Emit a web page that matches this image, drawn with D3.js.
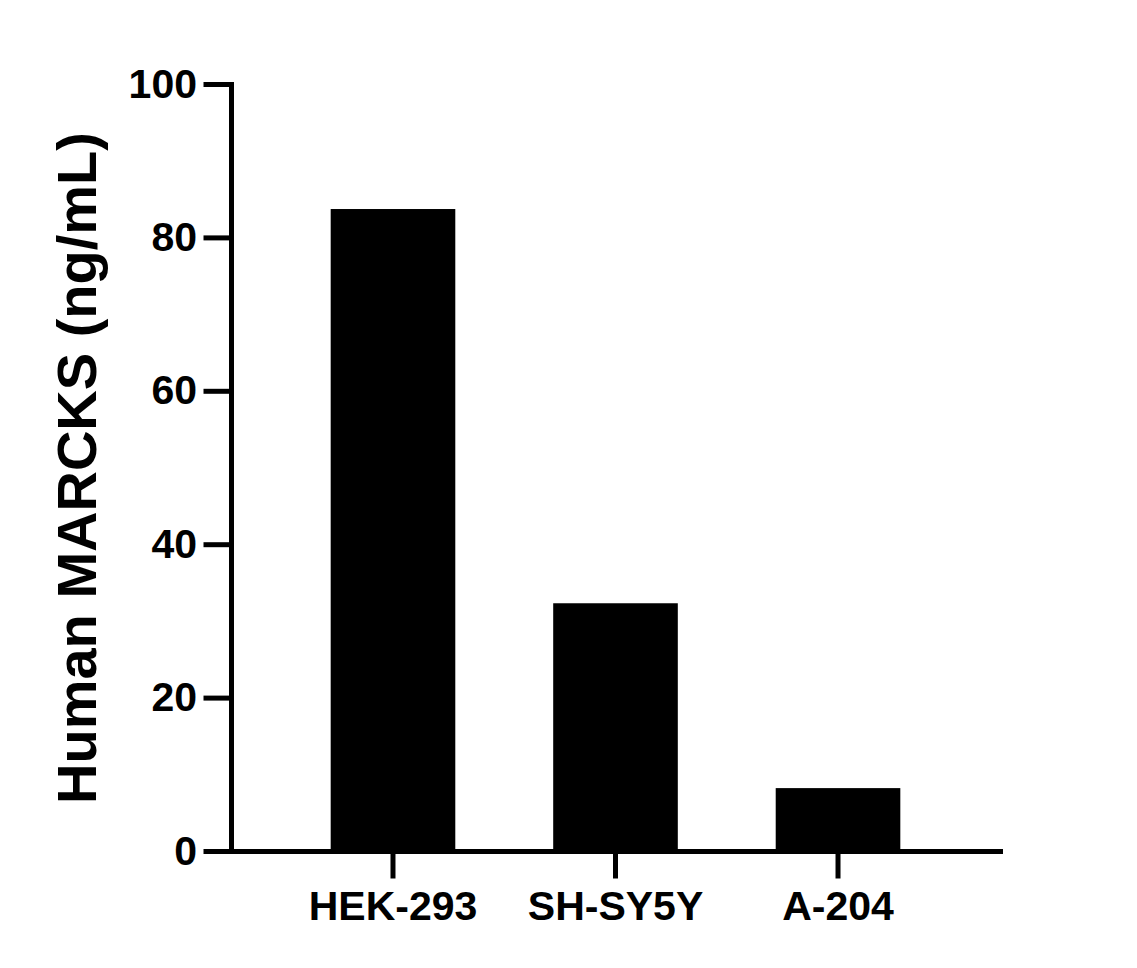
<!DOCTYPE html>
<html lang="en">
<head>
  <meta charset="utf-8">
  <title>Human MARCKS</title>
  <script src="https://d3js.org/d3.v7.min.js"></script>
  <style>
    body { margin: 0; background: #fff; }
    text { font-family: "Liberation Sans", Arial, sans-serif; font-weight: bold; }
  </style>
</head>
<body>
<script>
  // data
  var cellLines = ["HEK-293", "SH-SY5Y", "A-204"];
  var marcksValues = [83.7, 32.3, 8.2];
  var yTicks = [0, 20, 40, 60, 80, 100];

  var svg_width = 1137;
  var svg_height = 968;
  var plotLeft = 231, plotRight = 1000, plotTop = 84, plotBottom = 851;

  var svg = d3.select("body")
              .append("svg")
              .attr("width", svg_width)
              .attr("height", svg_height);

  var x = d3.scaleBand()
            .domain(cellLines)
            .range([plotLeft, plotRight])
            .paddingInner(0.44)
            .paddingOuter(0.448);

  var y = d3.scaleLinear()
            .domain([0, 100])
            .range([plotBottom, plotTop]);

  // bars
  svg.selectAll("rect.bar")
     .data(cellLines)
     .enter()
       .append("rect")
       .attr("class", "bar")
       .attr("x", function(d) { return x(d); })
       .attr("y", function(d, i) { return y(marcksValues[i]); })
       .attr("width", x.bandwidth())
       .attr("height", function(d, i) { return y(0) - y(marcksValues[i]); })
       .attr("fill", "#000");

  // y axis
  svg.append("g")
     .attr("transform", "translate(" + plotLeft + ",0)")
     .call(d3.axisLeft(y).tickValues(yTicks).tickSize(25).tickSizeOuter(0).tickPadding(9));

  // x axis
  svg.append("g")
     .attr("transform", "translate(0," + plotBottom + ")")
     .call(d3.axisBottom(x).tickSize(25).tickSizeOuter(0).tickPadding(15));

  svg.selectAll(".domain, .tick line")
     .attr("stroke", "#000")
     .attr("stroke-width", 5)
     .attr("stroke-linecap", "square");

  svg.selectAll(".tick text")
     .attr("fill", "#000")
     .style("font-size", "41px");

  // y axis title
  svg.append("text")
     .attr("transform", "translate(96,468) rotate(-90)")
     .attr("text-anchor", "middle")
     .style("font-size", "56px")
     .attr("fill", "#000")
     .text("Human MARCKS (ng/mL)");
</script>
</body>
</html>
